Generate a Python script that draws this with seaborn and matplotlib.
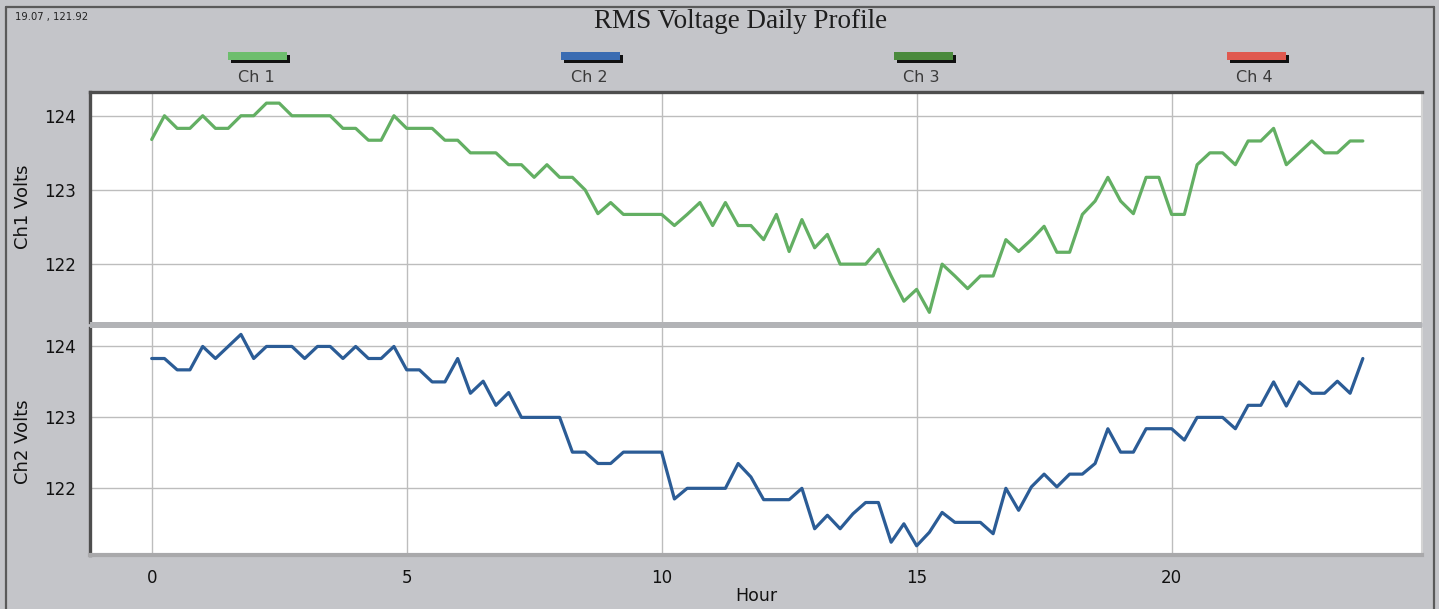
import matplotlib
matplotlib.use("Agg")
import matplotlib.pyplot as plt
from matplotlib.patches import Rectangle
from matplotlib.lines import Line2D
import seaborn as sns
import pandas as pd

# ---------------- data ----------------
hours = [0.0, 0.25, 0.5, 0.75, 1.0, 1.25, 1.5, 1.75, 2.0, 2.25, 2.5, 2.75,
         3.0, 3.25, 3.5, 3.75, 4.0, 4.25, 4.5, 4.75, 5.0, 5.25, 5.5, 5.75,
         6.0, 6.25, 6.5, 6.75, 7.0, 7.25, 7.5, 7.75, 8.0, 8.25, 8.5, 8.75,
         9.0, 9.25, 9.5, 9.75, 10.0, 10.25, 10.5, 10.75, 11.0, 11.25, 11.5, 11.75,
         12.0, 12.25, 12.5, 12.75, 13.0, 13.25, 13.5, 13.75, 14.0, 14.25, 14.5, 14.75,
         15.0, 15.25, 15.5, 15.75, 16.0, 16.25, 16.5, 16.75, 17.0, 17.25, 17.5, 17.75,
         18.0, 18.25, 18.5, 18.75, 19.0, 19.25, 19.5, 19.75, 20.0, 20.25, 20.5, 20.75,
         21.0, 21.25, 21.5, 21.75, 22.0, 22.25, 22.5, 22.75, 23.0, 23.25, 23.5, 23.75]

ch1_volts = [123.68, 124.0, 123.83, 123.83, 124.0, 123.83, 123.83, 124.0, 124.0, 124.17, 124.17, 124.0, 124.0, 124.0, 124.0, 123.83,
             123.83, 123.67, 123.67, 124.0, 123.83, 123.83, 123.83, 123.67, 123.67, 123.5, 123.5, 123.5, 123.34, 123.34, 123.17, 123.34,
             123.17, 123.17, 123.0, 122.68, 122.83, 122.67, 122.67, 122.67, 122.67, 122.52, 122.67, 122.83, 122.52, 122.83, 122.52, 122.52,
             122.33, 122.67, 122.17, 122.6, 122.22, 122.4, 122.0, 122.0, 122.0, 122.2, 121.84, 121.5, 121.66, 121.35, 122.0, 121.84,
             121.67, 121.84, 121.84, 122.33, 122.17, 122.33, 122.51, 122.16, 122.16, 122.67, 122.85, 123.17, 122.85, 122.68, 123.17, 123.17,
             122.67, 122.67, 123.34, 123.5, 123.5, 123.34, 123.66, 123.66, 123.83, 123.34, 123.5, 123.66, 123.5, 123.5, 123.66, 123.66]

ch2_volts = [123.83, 123.83, 123.67, 123.67, 124.0, 123.83, 124.0, 124.17, 123.83, 124.0, 124.0, 124.0, 123.83, 124.0, 124.0, 123.83,
             124.0, 123.83, 123.83, 124.0, 123.67, 123.67, 123.5, 123.5, 123.83, 123.34, 123.51, 123.17, 123.35, 123.0, 123.0, 123.0,
             123.0, 122.51, 122.51, 122.35, 122.35, 122.51, 122.51, 122.51, 122.51, 121.85, 122.0, 122.0, 122.0, 122.0, 122.35, 122.16,
             121.84, 121.84, 121.84, 122.0, 121.43, 121.62, 121.43, 121.64, 121.8, 121.8, 121.24, 121.5, 121.19, 121.38, 121.66, 121.52,
             121.52, 121.52, 121.36, 122.0, 121.69, 122.02, 122.2, 122.02, 122.2, 122.2, 122.35, 122.84, 122.51, 122.51, 122.84, 122.84,
             122.84, 122.68, 123.0, 123.0, 123.0, 122.84, 123.17, 123.17, 123.5, 123.16, 123.5, 123.34, 123.34, 123.51, 123.34, 123.83]

channels = ["Ch 1", "Ch 2", "Ch 3", "Ch 4"]
channel_colors = ["#6DBE6D", "#3A6CB2", "#4A8A3C", "#E0594F"]
x_ticks = [0, 5, 10, 15, 20]
y_ticks = [122, 123, 124]
y_minor = [121.5, 122.5, 123.5]
title = "RMS Voltage Daily Profile"
cursor_text = "19.07 , 121.92"

df = pd.DataFrame({"Hour": hours, "Ch1": ch1_volts, "Ch2": ch2_volts})

# ---------------- style ----------------
sns.set_style("white")
plt.rcParams["font.family"] = ["DejaVu Sans"]

W, H = 1439, 609
BG = "#C4C5C9"
fig = plt.figure(figsize=(W / 100, H / 100), dpi=100, facecolor=BG)


def fx(px):
    return px / W


def fy(py):
    return 1 - py / H


left_px, right_px = 90, 1422
ax1 = fig.add_axes([fx(left_px), fy(322), (right_px - left_px) / W, (322 - 92) / H])
ax2 = fig.add_axes([fx(left_px), fy(555), (right_px - left_px) / W, (555 - 328) / H])

line_cols = ["#63AF63", "#2B5C96"]
for ax, col, c, lab, ylim in [
    (ax1, "Ch1", line_cols[0], "Ch1 Volts", (121.22, 124.32)),
    (ax2, "Ch2", line_cols[1], "Ch2 Volts", (121.06, 124.26)),
]:
    ax.set_facecolor("white")
    sns.lineplot(data=df, x="Hour", y=col, ax=ax, color=c, linewidth=2.3, zorder=3)
    ax.set_xlim(-1.21, 24.91)
    ax.set_ylim(*ylim)
    ax.set_xticks(x_ticks)
    ax.set_yticks(y_ticks)
    ax.set_yticks(y_minor, minor=True)
    ax.set_yticklabels([str(v) for v in y_ticks], fontsize=12, color="#111111")
    ax.grid(True, which="major", color="#BDBDBD", linewidth=1.0, zorder=0)
    ax.tick_params(axis="y", which="major", direction="out", length=7, width=1,
                   color="#8A8A8A", pad=3)
    ax.tick_params(axis="y", which="minor", direction="in", length=5, width=1,
                   color="#C8C8C8")
    ax.tick_params(axis="x", which="major", direction="out", length=7, width=1,
                   color="#AAAAAA", pad=3)
    ax.set_ylabel(lab, fontsize=13, color="#111111", labelpad=9)
    for side in ["left", "top", "right", "bottom"]:
        ax.spines[side].set_visible(True)
    ax.spines["left"].set_color("#4E4E4E")
    ax.spines["left"].set_linewidth(2.4)
    ax.spines["right"].set_color("#D4D4D4")
    ax.spines["right"].set_linewidth(1.5)

ax1.spines["top"].set_color("#4E4E4E")
ax1.spines["top"].set_linewidth(2.4)
ax1.spines["bottom"].set_visible(False)
ax1.set_xlabel("")
ax1.tick_params(axis="x", labelbottom=False, length=0)

ax2.spines["top"].set_visible(False)
ax2.spines["bottom"].set_color("#A9A9AB")
ax2.spines["bottom"].set_linewidth(3)
ax2.set_xticklabels([str(v) for v in x_ticks], fontsize=12, color="#111111")
ax2.set_xlabel("Hour", fontsize=12.5, color="#111111", labelpad=0)

# separator band between panels
fig.patches.append(Rectangle((fx(left_px), fy(328)), (right_px - left_px) / W, 6 / H,
                             transform=fig.transFigure, facecolor="#B2B3B6",
                             edgecolor="none", zorder=5))

# outer frame
for xs, ys in [([6, 6], [7, 620]), ([6, 1434], [7, 7]), ([1434, 1434], [7, 620])]:
    fig.add_artist(Line2D([fx(v) for v in xs], [fy(v) for v in ys],
                          transform=fig.transFigure, color="#5A5A5A", linewidth=1.6))

# title and cursor readout
fig.text(fx(741), fy(21), title, ha="center", va="center", fontsize=19.5,
         family=["Liberation Serif", "DejaVu Serif"], color="#1E1E1E")
fig.text(fx(15), fy(17), cursor_text, ha="left", va="center", fontsize=7.2,
         color="#222222")

# legend bars
bar_left = [228, 561, 894, 1227]
label_cx = [256, 589, 921, 1254]
for name, colr, bx, lx in zip(channels, channel_colors, bar_left, label_cx):
    fig.patches.append(Rectangle((fx(bx + 3), fy(63)), 59 / W, 8 / H,
                                 transform=fig.transFigure, facecolor="#111111",
                                 edgecolor="none"))
    fig.patches.append(Rectangle((fx(bx), fy(60)), 59 / W, 8 / H,
                                 transform=fig.transFigure, facecolor=colr,
                                 edgecolor="none"))
    fig.text(fx(lx), fy(78), name, ha="center", va="center", fontsize=11.5,
             color="#3A3A3A")

fig.savefig("out.png", dpi=100, facecolor=BG)
